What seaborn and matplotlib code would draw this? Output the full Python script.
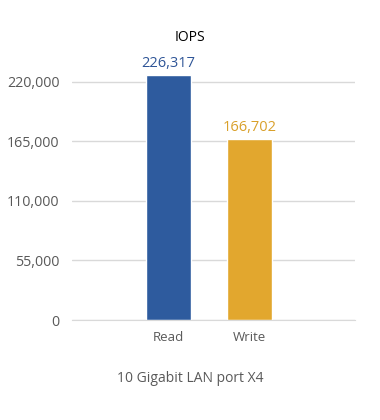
import matplotlib
matplotlib.use("Agg")
import matplotlib.pyplot as plt
import seaborn as sns
import pandas as pd

# data
categories = ["Read", "Write"]
iops = [226317, 166702]
bar_colors = ["#2E5B9E", "#E2A72E"]
label_colors = ["#2F5597", "#D9A02A"]
y_ticks = [0, 55000, 110000, 165000, 220000]

sns.set_style("white")
plt.rcParams['font.family'] = ['Open Sans', 'DejaVu Sans']

df = pd.DataFrame({"category": categories, "iops": iops})

fig = plt.figure(figsize=(3.8, 4.2), dpi=100)
ax = fig.add_axes([0.189, 0.238, 0.745, 0.619])

sns.barplot(data=df, x="category", y="iops", hue="category", palette=bar_colors,
            width=0.556, legend=False, ax=ax, saturation=1)

for i, v in enumerate(iops):
    ax.text(i, v + 4000, f"{v:,}", ha="center", va="bottom", fontsize=10.5,
            color=label_colors[i])

ax.set_ylim(0, 240000)
ax.set_xlim(-1.19, 2.3)
ax.set_yticks(y_ticks)
ax.set_yticklabels([f"{t:,}" for t in y_ticks])
ax.yaxis.grid(True, color="#D9D9D9", linewidth=1)
ax.set_axisbelow(True)
for s in ["top", "right", "left"]:
    ax.spines[s].set_visible(False)
ax.spines["bottom"].set_color("#D9D9D9")
ax.tick_params(axis="x", length=0, labelsize=9.5, colors="#595959", pad=8)
ax.tick_params(axis="y", length=0, labelsize=10.3, colors="#595959", pad=9)
ax.set_xlabel("")
ax.set_ylabel("")

fig.text(0.5, 0.91, "IOPS", ha="center", va="center", fontsize=10, color="black")
fig.text(0.5, 0.098, "10 Gigabit LAN port X4", ha="center", va="center",
         fontsize=10, color="#595959")

fig.savefig("out.png", dpi=100)
